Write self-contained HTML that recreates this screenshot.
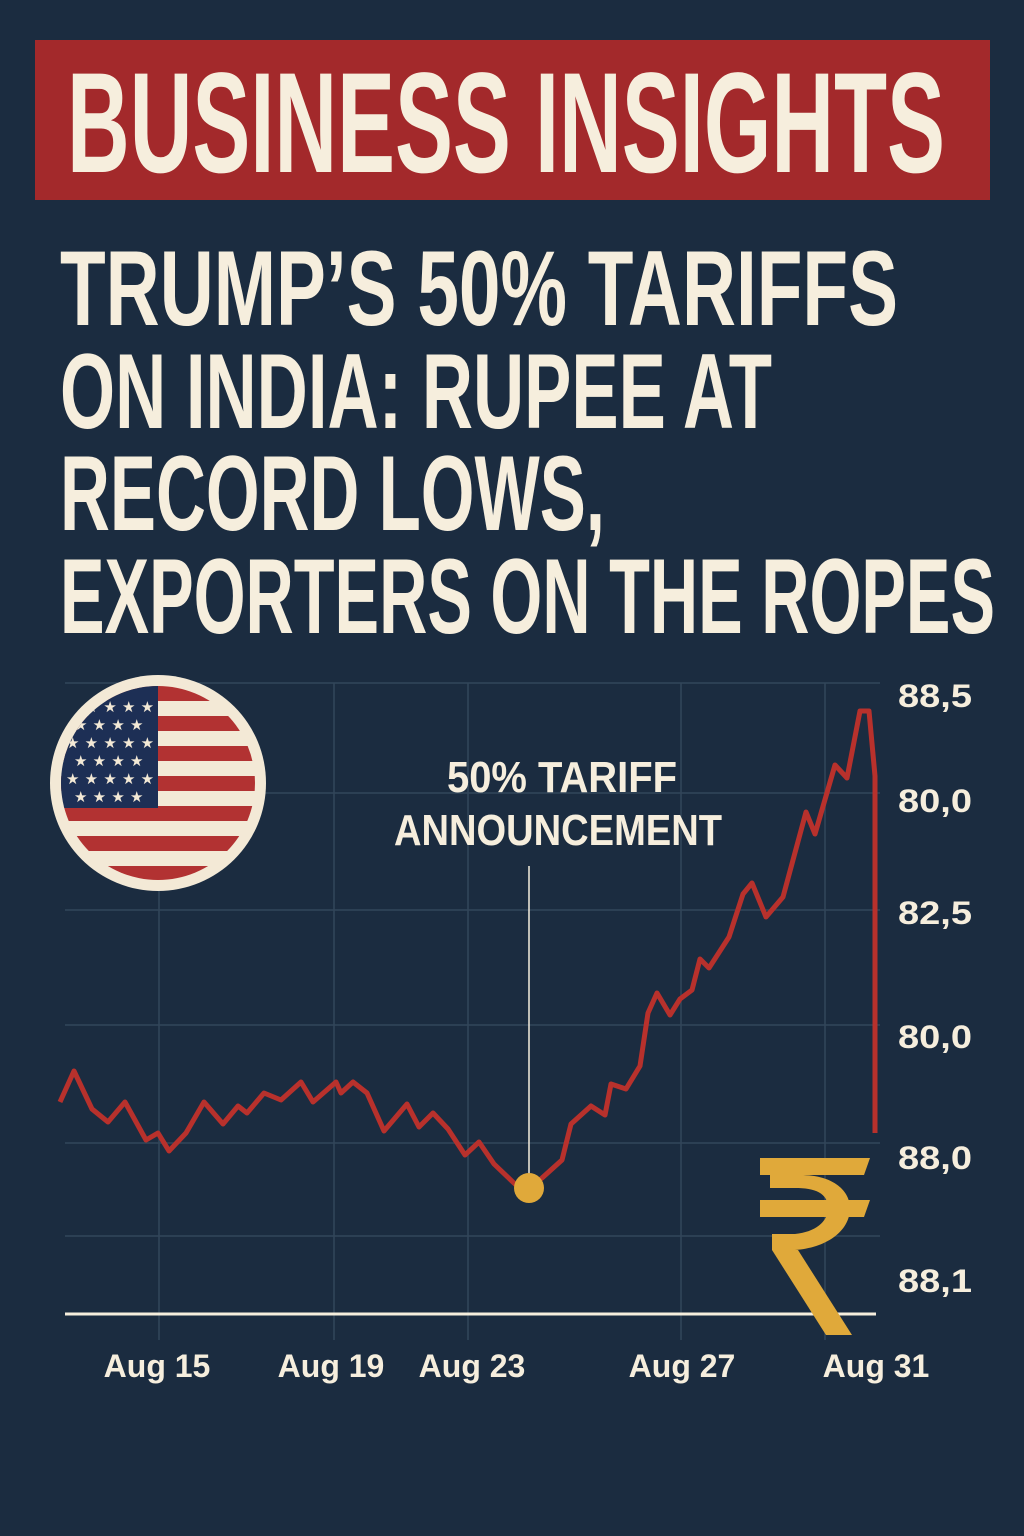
<!DOCTYPE html>
<html><head><meta charset="utf-8"><style>
html,body{margin:0;padding:0;background:#1b2c40;}
svg{display:block}
</style></head><body>
<svg width="1024" height="1536" viewBox="0 0 1024 1536" xmlns="http://www.w3.org/2000/svg" font-family="'Liberation Sans Narrow','Liberation Sans',sans-serif" font-weight="bold">
<rect width="1024" height="1536" fill="#1b2c40"/>
<rect x="35" y="40" width="955" height="160" fill="#a3292b"/>
<text x="67" y="172" font-size="143" fill="#f6eedd" textLength="878" lengthAdjust="spacingAndGlyphs">BUSINESS INSIGHTS</text>
<g fill="#f6eedd" font-size="107">
<text x="60" y="325" textLength="838" lengthAdjust="spacingAndGlyphs">TRUMP’S 50% TARIFFS</text>
<text x="60" y="428" textLength="712" lengthAdjust="spacingAndGlyphs">ON INDIA: RUPEE AT</text>
<text x="60" y="530" textLength="545" lengthAdjust="spacingAndGlyphs">RECORD LOWS,</text>
<text x="60" y="633" textLength="935" lengthAdjust="spacingAndGlyphs">EXPORTERS ON THE ROPES</text>
</g>
<g stroke="#33465a" stroke-width="1.5">
<line x1="65" y1="683" x2="880" y2="683"/><line x1="65" y1="793" x2="880" y2="793"/>
<line x1="65" y1="910" x2="880" y2="910"/><line x1="65" y1="1025" x2="880" y2="1025"/>
<line x1="65" y1="1143" x2="880" y2="1143"/><line x1="65" y1="1236" x2="880" y2="1236"/>
<line x1="159" y1="683" x2="159" y2="1340"/><line x1="334" y1="683" x2="334" y2="1340"/>
<line x1="468" y1="683" x2="468" y2="1340"/><line x1="681" y1="683" x2="681" y2="1340"/>
<line x1="825" y1="683" x2="825" y2="1340"/>
</g>
<line x1="65" y1="1314" x2="876" y2="1314" stroke="#f6eedd" stroke-width="3"/>
<!-- flag -->
<defs><clipPath id="c"><circle cx="158" cy="783" r="97"/></clipPath></defs>
<circle cx="158" cy="783" r="108" fill="#f3e9d6"/>
<g clip-path="url(#c)">
<rect x="50" y="680" width="220" height="210" fill="#f3e9d6"/>
<g fill="#b23232">
<rect x="50" y="686" width="220" height="15"/><rect x="50" y="716" width="220" height="15"/>
<rect x="50" y="746" width="220" height="15"/><rect x="50" y="776" width="220" height="15"/>
<rect x="50" y="806" width="220" height="15"/><rect x="50" y="836" width="220" height="15"/>
<rect x="50" y="866" width="220" height="15"/>
</g>
<rect x="50" y="680" width="108" height="128" fill="#1d2f55"/>
<g fill="#f3e9d6" font-size="15" font-family="'DejaVu Sans',sans-serif">
<text x="66" y="712">★ ★ ★ ★ ★</text><text x="74" y="730">★ ★ ★ ★</text>
<text x="66" y="748">★ ★ ★ ★ ★</text><text x="74" y="766">★ ★ ★ ★</text>
<text x="66" y="784">★ ★ ★ ★ ★</text><text x="74" y="802">★ ★ ★ ★</text>
</g>
</g>
<!-- annotation -->
<text x="562" y="792" font-size="44" fill="#f6eedd" text-anchor="middle" textLength="230" lengthAdjust="spacingAndGlyphs">50% TARIFF</text>
<text x="558" y="845" font-size="44" fill="#f6eedd" text-anchor="middle" textLength="328" lengthAdjust="spacingAndGlyphs">ANNOUNCEMENT</text>
<line x1="529" y1="866" x2="529" y2="1182" stroke="#f6eedd" stroke-width="1.5"/>
<polyline fill="none" stroke="#b8312c" stroke-width="5" stroke-linejoin="round" points="60,1102 74,1071 92,1109 108,1122 125,1102 146,1140 158,1133 169,1151 186,1133 204,1102 223,1124 238,1106 247,1113 264,1093 281,1100 301,1082 313,1102 336,1082 341,1093 353,1082 367,1093 384,1131 407,1104 419,1127 433,1113 448,1129 465,1155 479,1142 494,1164 516,1185 529,1189 542,1178 562,1160 571,1124 591,1106 605,1115 611,1084 626,1089 640,1066 648,1013 657,993 670,1015 680,999 692,990 700,959 709,968 729,937 743,894 752,883 766,917 783,897 806,812 815,834 835,765 847,778 860,711 869,711 875,776 875,1133"/>
<circle cx="529" cy="1188" r="15" fill="#e0a93a"/>
<!-- rupee -->
<g fill="#e0a93a">
<polygon points="760,1158 870,1158 864,1175 760,1175"/>
<polygon points="760,1200 870,1200 864,1217 760,1217"/>
<path d="M770,1175 L800,1175 C835,1175 850,1192 850,1208 C850,1232 825,1248 795,1250 L772,1250 L772,1234 L795,1234 C815,1232 828,1222 828,1208 C828,1193 815,1188 795,1188 L770,1188 Z"/>
<polygon points="772,1250 798,1250 852,1335 826,1335"/>
</g>
<g fill="#f6eedd" font-size="32" font-family="'Liberation Sans',sans-serif">
<text x="898" y="707" textLength="74" lengthAdjust="spacingAndGlyphs">88,5</text>
<text x="898" y="812" textLength="74" lengthAdjust="spacingAndGlyphs">80,0</text>
<text x="898" y="924" textLength="74" lengthAdjust="spacingAndGlyphs">82,5</text>
<text x="898" y="1048" textLength="74" lengthAdjust="spacingAndGlyphs">80,0</text>
<text x="898" y="1169" textLength="74" lengthAdjust="spacingAndGlyphs">88,0</text>
<text x="898" y="1292" textLength="74" lengthAdjust="spacingAndGlyphs">88,1</text>
<g text-anchor="middle">
<text x="157" y="1377">Aug 15</text><text x="331" y="1377">Aug 19</text>
<text x="472" y="1377">Aug 23</text><text x="682" y="1377">Aug 27</text>
<text x="876" y="1377">Aug 31</text>
</g>
</g>
</svg>
</body></html>
